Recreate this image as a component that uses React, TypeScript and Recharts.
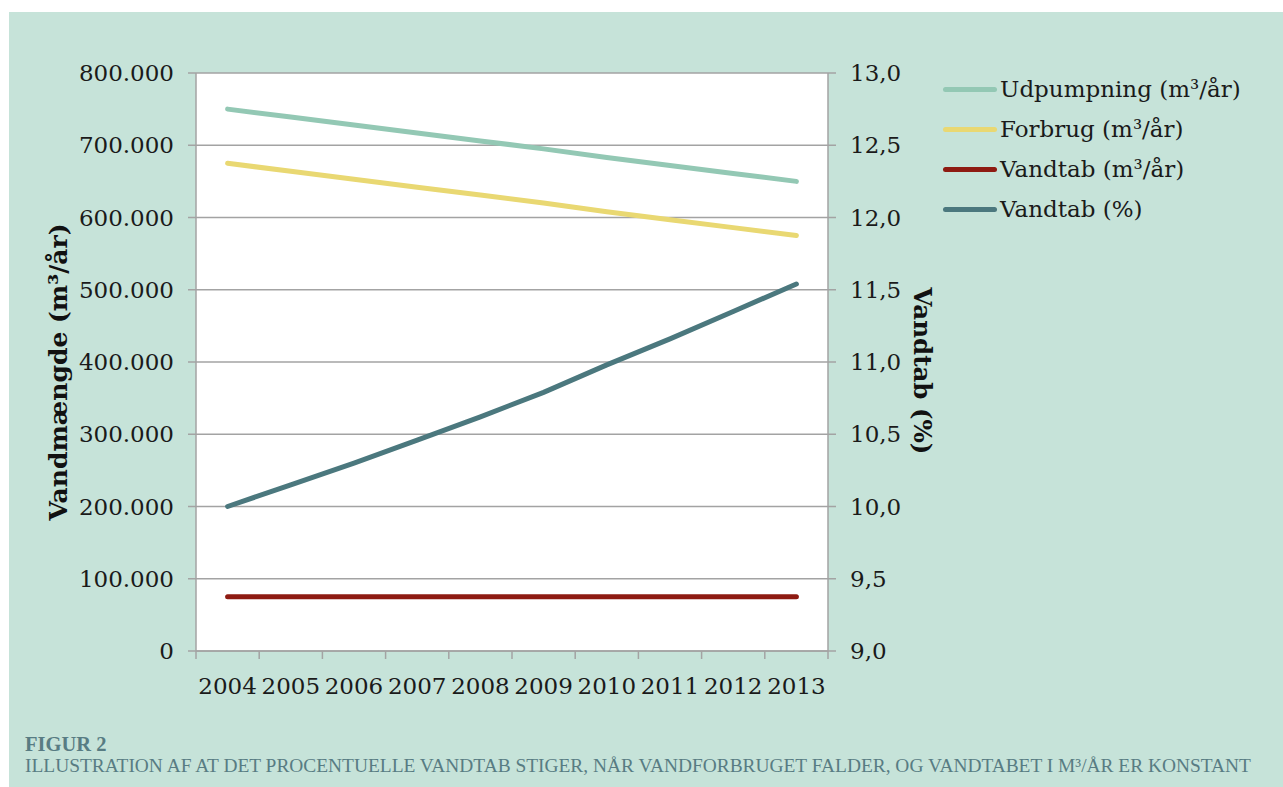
import React from "react"
import { CartesianGrid, Label, Line, LineChart, XAxis, YAxis } from "recharts"

const years = [2004, 2005, 2006, 2007, 2008, 2009, 2010, 2011, 2012, 2013]
const udpumpning = [750000, 739000, 728000, 717000, 706000, 695000, 683000, 672000, 661000, 650000]
const forbrug = [675000, 664000, 653000, 642000, 631000, 620000, 608000, 597000, 586000, 575000]
const vandtabM3 = [75000, 75000, 75000, 75000, 75000, 75000, 75000, 75000, 75000, 75000]
const vandtabPct = [10.0, 10.15, 10.3, 10.46, 10.62, 10.79, 10.98, 11.16, 11.35, 11.54]

const leftTicks = [0, 100000, 200000, 300000, 400000, 500000, 600000, 700000, 800000]
const rightTicks = [9, 9.5, 10, 10.5, 11, 11.5, 12, 12.5, 13]
// year boundaries, so the tick marks sit between the year labels
const bandEdges = [2003.5, 2004.5, 2005.5, 2006.5, 2007.5, 2008.5, 2009.5, 2010.5, 2011.5, 2012.5, 2013.5]

const data = years.map((year, i) => ({
  year,
  udpumpning: udpumpning[i],
  forbrug: forbrug[i],
  vandtabM3: vandtabM3[i],
  vandtabPct: vandtabPct[i],
}))

const series = [
  { key: "udpumpning", name: "Udpumpning (m³/år)", color: "#93c8b4", axis: "left" },
  { key: "forbrug", name: "Forbrug (m³/år)", color: "#e9d872", axis: "left" },
  { key: "vandtabM3", name: "Vandtab (m³/år)", color: "#8e1b12", axis: "left" },
  { key: "vandtabPct", name: "Vandtab (%)", color: "#4b787e", axis: "right" },
]

const FONT = "'DejaVu Serif', serif"
const BG = "#c6e3d9"
const GRID = "#a3a3a3"
const CAPTION = "#587c83"

const thousands = (v: number) => String(v).replace(/\B(?=(\d{3})+(?!\d))/g, ".")
const decimalComma = (v: number) => v.toFixed(1).replace(".", ",")

const tickStyle = { fontFamily: FONT, fontSize: 23, fill: "#1a1a1a" }

function AxisTitle({ viewBox, value, angle, dx, dy, size }: any) {
  const cx = viewBox.x + viewBox.width / 2 + dx
  const cy = viewBox.y + viewBox.height / 2 + dy
  return (
    <text
      x={cx}
      y={cy}
      transform={`rotate(${angle}, ${cx}, ${cy})`}
      textAnchor="middle"
      dominantBaseline="central"
      fontFamily={FONT}
      fontSize={size}
      fontWeight="bold"
      fill="#111"
    >
      {value}
    </text>
  )
}

export default function App() {
  return (
    <div
      style={{
        position: "absolute",
        left: 9,
        top: 12,
        width: 1274,
        height: 775,
        background: BG,
        fontFamily: FONT,
      }}
    >
      <LineChart
        width={960}
        height={700}
        data={data}
        margin={{ top: 61, right: 41, bottom: 3, left: 0 }}
      >
        <CartesianGrid vertical={false} stroke={GRID} strokeWidth={1.5} fill="#ffffff" yAxisId="left" />
        <XAxis
          xAxisId="grid"
          type="number"
          dataKey="year"
          domain={[2003.5, 2013.5]}
          ticks={bandEdges}
          tickFormatter={() => ""}
          tickSize={8}
          height={8}
          stroke={GRID}
          strokeWidth={1.5}
        />
        <XAxis
          xAxisId="year"
          type="number"
          dataKey="year"
          domain={[2003.5, 2013.5]}
          ticks={years}
          axisLine={false}
          tickLine={false}
          tickMargin={13}
          height={50}
          tick={tickStyle}
        />
        <YAxis
          yAxisId="left"
          domain={[0, 800000]}
          ticks={leftTicks}
          width={187}
          tickSize={8}
          tickMargin={14}
          tickFormatter={thousands}
          tick={tickStyle}
          stroke={GRID}
          strokeWidth={1.5}
        >
          <Label content={(p: any) => <AxisTitle {...p} value="Vandmængde (m³/år)" angle={-90} dx={-44} dy={10} size={25} />} />
        </YAxis>
        <YAxis
          yAxisId="right"
          orientation="right"
          domain={[9, 13]}
          ticks={rightTicks}
          width={100}
          tickSize={8}
          tickMargin={14}
          tickFormatter={decimalComma}
          tick={tickStyle}
          stroke={GRID}
          strokeWidth={1.5}
        >
          <Label content={(p: any) => <AxisTitle {...p} value="Vandtab (%)" angle={90} dx={44} dy={9} size={24.5} />} />
        </YAxis>
        {series.map((s) => (
          <Line
            key={s.key}
            xAxisId="year"
            yAxisId={s.axis}
            dataKey={s.key}
            name={s.name}
            stroke={s.color}
            strokeWidth={5}
            strokeLinecap="round"
            dot={false}
            activeDot={false}
            isAnimationActive={false}
          />
        ))}
      </LineChart>

      <div style={{ position: "absolute", left: 934, top: 57 }}>
        {series.map((s) => (
          <div key={s.key} style={{ display: "flex", alignItems: "center", height: 40 }}>
            <span
              style={{
                display: "inline-block",
                width: 54,
                height: 5,
                borderRadius: 3,
                background: s.color,
                marginRight: 3,
              }}
            />
            <span style={{ fontSize: 23, color: "#1a1a1a" }}>{s.name}</span>
          </div>
        ))}
      </div>

      <div
        style={{
          position: "absolute",
          left: 16,
          top: 721,
          color: CAPTION,
          fontFamily: "'Liberation Serif', serif",
          lineHeight: "22px",
        }}
      >
        <div style={{ fontWeight: "bold", fontSize: 20.5 }}>FIGUR 2</div>
        <div style={{ fontSize: 19.4 }}>
          ILLUSTRATION AF AT DET PROCENTUELLE VANDTAB STIGER, NÅR VANDFORBRUGET FALDER, OG VANDTABET I M³/ÅR ER KONSTANT
        </div>
      </div>
    </div>
  )
}
